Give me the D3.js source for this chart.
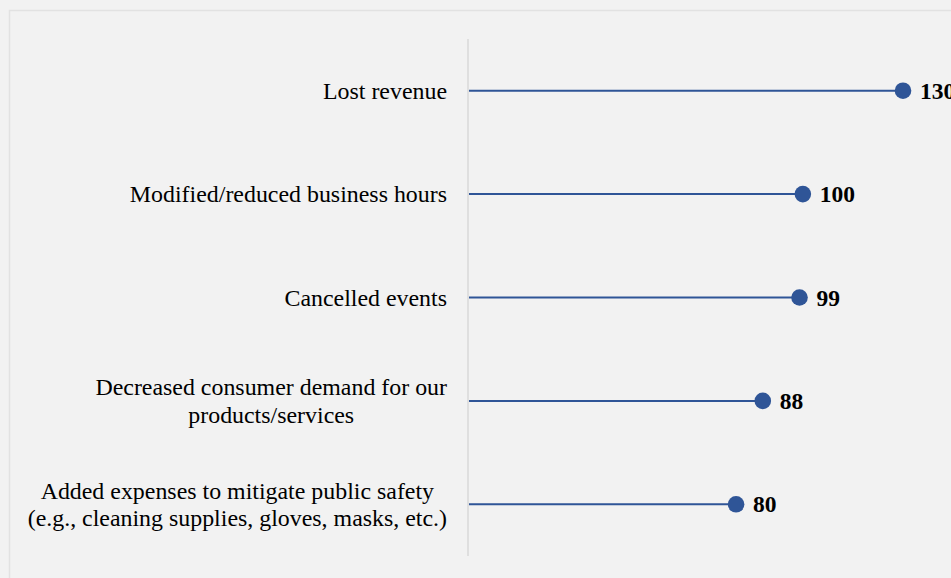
<!DOCTYPE html>
<html>
<head>
<meta charset="utf-8">
<script src="https://cdn.jsdelivr.net/npm/d3@7"></script>
<style>
  html, body { margin: 0; padding: 0; background: #f2f2f2; overflow: hidden; }
  svg { display: block; font-family: "Liberation Serif", "Times New Roman", serif; }
</style>
</head>
<body>
<script>
// categories, top to bottom (each entry is the wrapped lines of the label)
var categories = [
  ["Lost revenue"],
  ["Modified/reduced business hours"],
  ["Cancelled events"],
  ["Decreased consumer demand for our", "products/services"],
  ["Added expenses to mitigate public safety", "(e.g., cleaning supplies, gloves, masks, etc.)"]
];
var values = [130, 100, 99, 88, 80];

var width = 951, height = 578;
var LINE_COLOR = "#2f5597";

var svg = d3.select("body").append("svg")
  .attr("width", width)
  .attr("height", height);

// chart area frame, right/bottom edges run off the page like the original
svg.append("rect")
  .attr("x", 9.5)
  .attr("y", 10.5)
  .attr("width", 1000)
  .attr("height", 1000)
  .style("fill", "#f2f2f2")
  .style("stroke", "#e2e2e2")
  .style("stroke-width", 1.5);

var rows = categories.map(function(c, i) { return i; });

var y = d3.scaleBand()
  .domain(rows)
  .range([39, 556]);

var x = d3.scaleLinear()
  .domain([0, 130])
  .range([469, 903]);

// vertical axis line
svg.append("line")
  .attr("x1", 468).attr("x2", 468)
  .attr("y1", y.range()[0]).attr("y2", y.range()[1])
  .style("stroke", "#d9d9d9")
  .style("stroke-width", 1.5);

var g = svg.selectAll("g.row")
  .data(rows)
  .enter().append("g")
  .attr("class", "row")
  .attr("transform", function(i) { return "translate(0," + (y(i) + y.bandwidth() / 2) + ")"; });

// stems
g.append("line")
  .attr("x1", x(0))
  .attr("x2", function(i) { return x(values[i]); })
  .style("stroke", LINE_COLOR)
  .style("stroke-width", 2);

// dots
g.append("circle")
  .attr("cx", function(i) { return x(values[i]); })
  .attr("r", 8.3)
  .style("fill", LINE_COLOR);

// value labels
g.append("text")
  .attr("x", function(i) { return x(values[i]) + 17; })
  .attr("y", 8)
  .style("font-size", "23.5px")
  .style("font-weight", "bold")
  .style("fill", "#000")
  .text(function(i) { return values[i]; });

// category labels: lines centred on each other, block right-aligned to 447
var LABEL_RIGHT = 447, LINE_H = 27.5;
g.each(function(i) {
  var lines = categories[i];
  var t = d3.select(this).append("text")
    .style("font-size", "23.9px")
    .style("fill", "#000");
  var spans = t.selectAll("tspan")
    .data(lines)
    .enter().append("tspan")
    .attr("y", function(d, k) { return 8 - (lines.length - 1) * LINE_H / 2 + k * LINE_H; })
    .text(function(d) { return d; });
  var maxW = 0;
  spans.each(function() { maxW = Math.max(maxW, this.getComputedTextLength()); });
  spans.attr("x", LABEL_RIGHT - maxW / 2).attr("text-anchor", "middle");
});
</script>
</body>
</html>
